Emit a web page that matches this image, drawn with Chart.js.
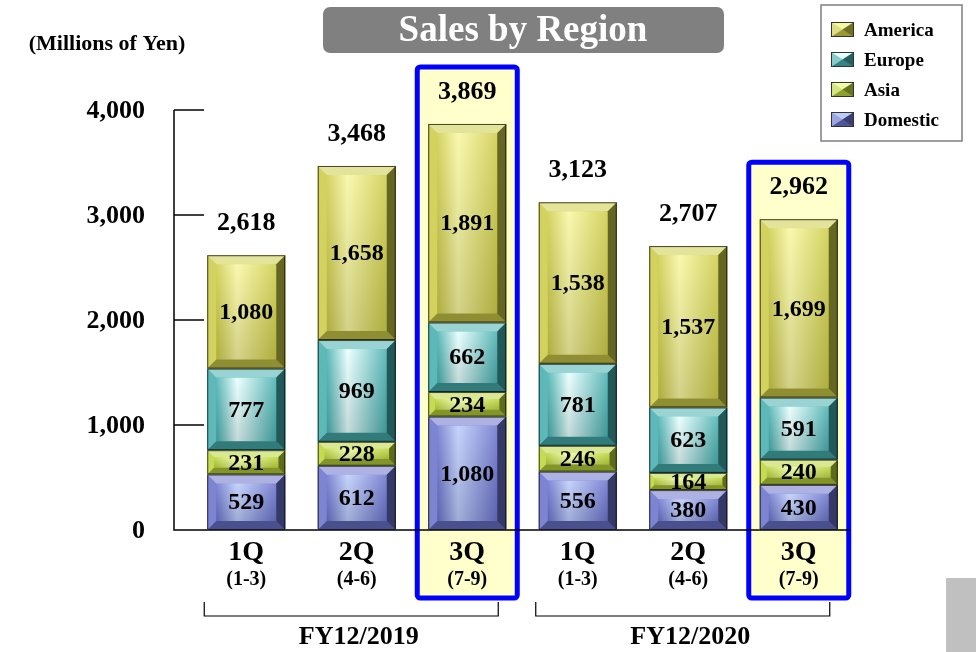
<!DOCTYPE html>
<html>
<head>
<meta charset="utf-8">
<title>Sales by Region</title>
<script src="https://cdn.jsdelivr.net/npm/chart.js@4.4.1/dist/chart.umd.min.js"></script>
<style>
  html, body { margin: 0; padding: 0; background: #fff; }
  canvas { display: block; }
</style>
</head>
<body>
<canvas id="chart" width="976" height="652"></canvas>
<script>
// categories
const quarters = ["1Q", "2Q", "3Q", "1Q", "2Q", "3Q"];
const months = ["(1-3)", "(4-6)", "(7-9)", "(1-3)", "(4-6)", "(7-9)"];
const fiscalYears = ["FY12/2019", "FY12/2020"];
const fyFirst = [0, 3];
const fyLast = [2, 5];
const highlighted = [2, 5];
// series (millions of yen)
const domestic = [529, 612, 1080, 556, 380, 430];
const asia = [231, 228, 234, 246, 164, 240];
const europe = [777, 969, 662, 781, 623, 591];
const america = [1080, 1658, 1891, 1538, 1537, 1699];
const totals = [2618, 3468, 3869, 3123, 2707, 2962];
// y ticks
const yTicks = [0, 1000, 2000, 3000, 4000];

//colors per region: base fill and highlight
const palettes = [
  { base: "#6b73cc", light: "#bccdfb" }, // Domestic
  { base: "#bcd63c", light: "#f2ffa6" }, // Asia
  { base: "#47b0b0", light: "#e8ffff" }, // Europe
  { base: "#cdcc48", light: "#f8f7a2" }, // America
];

const FAMILY = '"Liberation Serif", "Times New Roman", serif';
const fmt = (v) => v.toLocaleString("en-US");

function say(ctx, s, x, y, px, align, color) {
  ctx.font = "bold " + px + "px " + FAMILY;
  ctx.fillStyle = color || "#000";
  ctx.textAlign = align || "center";
  ctx.textBaseline = "middle";
  ctx.fillText(s, x, y);
}

function poly(ctx, pts, fill) {
  ctx.beginPath();
  ctx.moveTo(pts[0][0], pts[0][1]);
  for (let i = 1; i < pts.length; i++) ctx.lineTo(pts[i][0], pts[i][1]);
  ctx.closePath();
  ctx.fillStyle = fill;
  ctx.fill();
}

//draws the beveled "3D button" look of every segment
function bevelBox(ctx, l, t, r, b, pal) {
  const w = r - l, h = b - t;
  const e = Math.max(2, Math.min(9, h * 0.28, w * 0.2));
  ctx.fillStyle = pal.base;
  ctx.fillRect(l, t, w, h);
  const g = ctx.createLinearGradient(l + e, 0, r - e, 0);
  g.addColorStop(0, pal.base);
  g.addColorStop(0.35, pal.light);
  g.addColorStop(1, pal.base);
  ctx.fillStyle = g;
  ctx.fillRect(l + e, t + e, w - 2 * e, h - 2 * e);
  const v = ctx.createLinearGradient(0, t + e, 0, b - e);
  v.addColorStop(0, "rgba(255,255,255,0.15)");
  v.addColorStop(1, "rgba(0,0,0,0.15)");
  ctx.fillStyle = v;
  ctx.fillRect(l + e, t + e, w - 2 * e, h - 2 * e);
  poly(ctx, [[l, t], [r, t], [r - e, t + e], [l + e, t + e]], "rgba(255,255,255,0.45)");
  poly(ctx, [[l, t], [l + e, t + e], [l + e, b - e], [l, b]], "rgba(255,255,255,0.12)");
  poly(ctx, [[r, t], [r, b], [r - e, b - e], [r - e, t + e]], "rgba(0,0,0,0.5)");
  poly(ctx, [[l, b], [l + e, b - e], [r - e, b - e], [r, b]], "rgba(0,0,0,0.3)");
  ctx.strokeStyle = "rgba(0,0,0,0.7)";
  ctx.lineWidth = 1;
  ctx.strokeRect(l + 0.5, t + 0.5, w - 1, h - 1);
}

function swatch(ctx, l, t, w, h, pal) {
  const cx = l + w / 2, cy = t + h / 2;
  ctx.fillStyle = pal.base;
  ctx.fillRect(l, t, w, h);
  poly(ctx, [[l, t], [l + w, t], [cx, cy]], pal.light);
  poly(ctx, [[l, t], [cx, cy], [l, t + h]], "rgba(255,255,255,0.35)");
  poly(ctx, [[l + w, t], [l + w, t + h], [cx, cy]], "rgba(0,0,0,0.45)");
  poly(ctx, [[l, t + h], [cx, cy], [l + w, t + h]], "rgba(0,0,0,0.25)");
  ctx.strokeStyle = "#333";
  ctx.lineWidth = 1;
  ctx.strokeRect(l + 0.5, t + 0.5, w - 1, h - 1);
}

const decorations = {
  id: "decorations",
  beforeDatasetsDraw(chart) {
    const ctx = chart.ctx;
    const area = chart.chartArea;
    const yScale = chart.scales.y;
    const topMeta = chart.getDatasetMeta(chart.data.datasets.length - 1);
    ctx.save();
    //highlight boxes behind the current quarters
    highlighted.forEach((i) => {
      const el = topMeta.data[i];
      const l = el.x - 50, r = el.x + 50;
      const t = el.y - 57, b = area.bottom + 68;
      ctx.fillStyle = "#ffffcc";
      ctx.fillRect(l, t, r - l, b - t);
      ctx.strokeStyle = "#0000ff";
      ctx.lineWidth = 5;
      ctx.beginPath();
      ctx.roundRect(l, t, r - l, b - t, 3);
      ctx.stroke();
    });
    //axis lines, inward ticks, tick labels
    const axisX = area.left - 17;
    ctx.strokeStyle = "#000";
    ctx.lineWidth = 1.5;
    ctx.beginPath();
    ctx.moveTo(axisX, yScale.getPixelForValue(yTicks[yTicks.length - 1]));
    ctx.lineTo(axisX, area.bottom);
    ctx.lineTo(area.right - 4, area.bottom);
    ctx.stroke();
    yTicks.forEach((v) => {
      const py = yScale.getPixelForValue(v);
      if (v > 0) {
        ctx.beginPath();
        ctx.moveTo(axisX, py);
        ctx.lineTo(axisX + 30, py);
        ctx.stroke();
      }
      say(ctx, fmt(v), axisX - 29, py + 1, 26, "right");
    });
    ctx.restore();
  },
  afterDatasetsDraw(chart) {
    const ctx = chart.ctx;
    const area = chart.chartArea;
    ctx.save();
    //beveled segments + values
    chart.data.datasets.forEach((ds, d) => {
      chart.getDatasetMeta(d).data.forEach((el) => {
        const p = el.getProps(["x", "y", "base", "width"], true);
        bevelBox(ctx, p.x - p.width / 2, p.y, p.x + p.width / 2, p.base, palettes[d]);
      });
    });
    chart.data.datasets.forEach((ds, d) => {
      chart.getDatasetMeta(d).data.forEach((el, i) => {
        const p = el.getProps(["x", "y", "base"], true);
        say(ctx, fmt(ds.data[i]), p.x, (p.y + p.base) / 2 + 1, 24);
      });
    });
    //totals above stacks
    const topMeta = chart.getDatasetMeta(chart.data.datasets.length - 1);
    topMeta.data.forEach((el, i) => {
      say(ctx, fmt(totals[i]), el.x, el.y - 32, 26);
    });
    //category labels
    const xScale = chart.scales.x;
    quarters.forEach((q, i) => {
      const px = xScale.getPixelForValue(i);
      say(ctx, q, px, area.bottom + 23, 28);
      say(ctx, months[i], px, area.bottom + 50, 20);
    });
    //fiscal year brackets
    ctx.strokeStyle = "#000";
    ctx.lineWidth = 1.2;
    fiscalYears.forEach((fy, k) => {
      const x0 = xScale.getPixelForValue(fyFirst[k]) - 42;
      const x1 = xScale.getPixelForValue(fyLast[k]) + 31;
      const yb = area.bottom + 86;
      ctx.beginPath();
      ctx.moveTo(x0, yb - 14);
      ctx.lineTo(x0, yb);
      ctx.lineTo(x1, yb);
      ctx.lineTo(x1, yb - 14);
      ctx.stroke();
      const mid = (xScale.getPixelForValue(fyFirst[k]) + xScale.getPixelForValue(fyLast[k])) / 2;
      say(ctx, fy, mid + 2, yb + 21, 26);
    });
    //title
    ctx.fillStyle = "#808080";
    ctx.beginPath();
    ctx.roundRect(323, 7, 401, 46, 7);
    ctx.fill();
    say(ctx, "Sales by Region", 523, 31, 37, "center", "#fff");
    say(ctx, "(Millions of Yen)", 107, 44, 22);
    //legend box (reverse order)
    ctx.fillStyle = "#fff";
    ctx.fillRect(821, 5, 141, 136);
    ctx.strokeStyle = "#7f7f7f";
    ctx.lineWidth = 1.5;
    ctx.strokeRect(821, 5, 141, 136);
    const order = [3, 2, 1, 0];
    order.forEach((d, row) => {
      const cy = 30 + row * 30;
      swatch(ctx, 831, cy - 8, 23, 15, palettes[d]);
      say(ctx, chart.data.datasets[d].label, 864, cy + 1, 19, "left");
    });
    //grey tab in the corner
    ctx.fillStyle = "#c0c0c0";
    ctx.fillRect(946, 578, 30, 74);
    ctx.restore();
  },
};

const labelsStack = [domestic, asia, europe, america];
const names = ["Domestic", "Asia", "Europe", "America"];

new Chart(document.getElementById("chart"), {
  type: "bar",
  data: {
    labels: quarters,
    datasets: labelsStack.map((arr, d) => ({
      label: names[d],
      data: arr,
      backgroundColor: palettes[d].base,
      categoryPercentage: 1,
      barPercentage: 0.706,
    })),
  },
  options: {
    responsive: false,
    animation: false,
    layout: { padding: { left: 191, right: 122, top: 110, bottom: 122 } },
    scales: {
      x: { stacked: true, display: false },
      y: { stacked: true, display: false, min: 0, max: 4000 },
    },
    plugins: {
      legend: { display: false },
      tooltip: { enabled: false },
    },
  },
  plugins: [decorations],
});
</script>
</body>
</html>
